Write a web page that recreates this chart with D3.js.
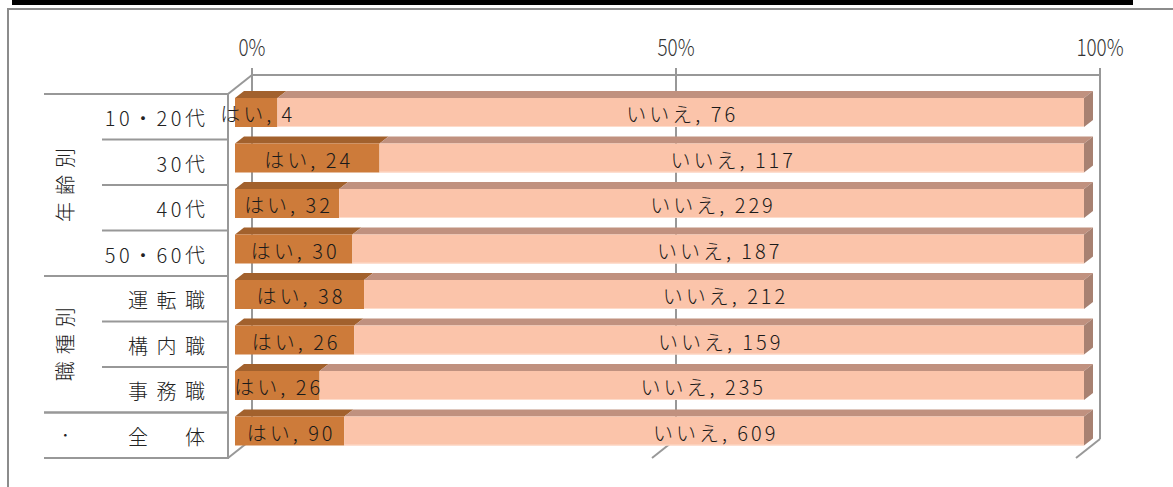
<!DOCTYPE html>
<html><head><meta charset="utf-8">
<script src="https://cdn.jsdelivr.net/npm/d3@7"></script>
<style>
html,body{margin:0;padding:0;background:#fff;}
svg{display:block;font-family:"Noto Sans CJK JP","Noto Sans",sans-serif;}
</style></head>
<body>
<svg id="chart" width="1173" height="487"></svg>
<script>
const categories = ["10・20代","30代","40代","50・60代","運転職","構内職","事務職","全　体"];
const yesValues = [4,24,32,30,38,26,26,90];
const noValues = [76,117,229,187,212,159,235,609];
const yesLabel = "はい";
const noLabel = "いいえ";
const groupNames = ["年齢別","職種別","・"];
const groupStart = [0,4,7];
const groupEnd = [4,7,8];
const tickValues = [0,0.5,1];
const tickLabels = ["0%","50%","100%"];

const svg = d3.select("#chart");

// frame
svg.append("rect").attr("x",12).attr("y",0).attr("width",1121).attr("height",5).attr("fill","#000");
svg.append("path").attr("d","M8,487 V9 H1173").attr("fill","none").attr("stroke","#8c8c8c").attr("stroke-width",2);

// scales
const y = d3.scaleBand().domain(categories).range([94,458]).padding(0);
const wallFront = d3.scaleLinear().domain([0,1]).range([228,1076]);
const depthX = 24, depthY = -19;
const wallBack = v => wallFront(v) + depthX;
const barX = d3.scaleLinear().domain([0,1]).range([235,1084]);
const barDX = 9, barDY = -7;
const barTopOff = 4, barH = 29;

const grid = "#989898";
const gTop = y.range()[0], gBot = y.range()[1];

tickValues.forEach(t=>{
  svg.append("line").attr("x1",wallBack(t)).attr("x2",wallBack(t))
    .attr("y1",gTop+depthY-7).attr("y2",gBot+depthY).attr("stroke",grid).attr("stroke-width",2);
  svg.append("line").attr("x1",wallFront(t)).attr("y1",gBot)
    .attr("x2",wallBack(t)).attr("y2",gBot+depthY).attr("stroke",grid).attr("stroke-width",2);
});
svg.append("line").attr("x1",wallBack(0)).attr("x2",wallBack(1)+1)
  .attr("y1",gTop+depthY).attr("y2",gTop+depthY).attr("stroke",grid).attr("stroke-width",2);
svg.append("line").attr("x1",wallFront(0)).attr("y1",gTop).attr("x2",wallBack(0)).attr("y2",gTop+depthY)
  .attr("stroke",grid).attr("stroke-width",2);
svg.append("line").attr("x1",wallFront(0)).attr("x2",wallFront(0)).attr("y1",gTop).attr("y2",gBot+1)
  .attr("stroke",grid).attr("stroke-width",2);

tickValues.forEach((t,i)=>{
  svg.append("text").attr("transform",`translate(${wallBack(t)},56) scale(0.82,1)`)
    .attr("text-anchor","middle").attr("font-size",23).attr("font-weight",300)
    .attr("fill","#333").text(tickLabels[i]);
});

groupNames.forEach((g,i)=>{
  const y0 = y(categories[groupStart[i]]);
  const y1 = y(categories[groupEnd[i]-1]) + y.bandwidth();
  svg.append("line").attr("x1",44).attr("x2",wallFront(0)).attr("y1",y0).attr("y2",y0).attr("stroke",grid).attr("stroke-width",2);
  svg.append("line").attr("x1",44).attr("x2",wallFront(0)).attr("y1",y1).attr("y2",y1).attr("stroke",grid).attr("stroke-width",2);
  for(let k=groupStart[i]+1;k<groupEnd[i];k++){
    const yy = y(categories[k]);
    svg.append("line").attr("x1",102).attr("x2",wallFront(0)).attr("y1",yy).attr("y2",yy).attr("stroke",grid).attr("stroke-width",2);
  }
  const cy = (y0+y1)/2;
  const isCJK = g.length>1;
  svg.append("text").attr("transform",`translate(64,${cy}) rotate(-90)`)
    .attr("text-anchor","middle").attr("dominant-baseline","central")
    .attr("font-size",isCJK?20:14).attr("font-weight",300).attr("fill","#222")
    .style("letter-spacing",isCJK?"7px":"0px").attr("dx",isCJK?3.5:0).text(g);
});

categories.forEach(c=>{
  const kanjiOnly = !/[0-9]/.test(c);
  const ls = kanjiOnly ? 8.5 : 3.5;
  svg.append("text").attr("x",205+ls).attr("y",y(c)+y.bandwidth()/2+1)
    .attr("text-anchor","end").attr("dominant-baseline","central")
    .attr("font-size",20).attr("font-weight",300).attr("fill","#222")
    .style("letter-spacing",ls+"px").text(c);
});

const colors = {
  yesFront:"#CD7B3A", yesTop:"#A2612D",
  noFront:"#FBC4AA", noTop:"#C0917F", noSide:"#A88171"
};
function para(x0,x1,yTop){
  return `M${x0},${yTop} L${x0+barDX},${yTop+barDY} L${x1+barDX},${yTop+barDY} L${x1},${yTop} Z`;
}
categories.forEach((c,i)=>{
  const total = yesValues[i]+noValues[i];
  const p = yesValues[i]/total;
  const yt = y(c)+barTopOff;
  const xa = barX(0), xm = barX(p), xb = barX(1);
  const g = svg.append("g");
  g.append("path").attr("d",para(xa,xm,yt)).attr("fill",colors.yesTop);
  g.append("path").attr("d",para(xm,xb,yt)).attr("fill",colors.noTop);
  g.append("path").attr("d",`M${xb},${yt} L${xb+barDX},${yt+barDY} L${xb+barDX},${yt+barDY+barH} L${xb},${yt+barH} Z`).attr("fill",colors.noSide);
  g.append("rect").attr("x",xa).attr("y",yt).attr("width",xm-xa).attr("height",barH).attr("fill",colors.yesFront);
  g.append("rect").attr("x",xm).attr("y",yt).attr("width",xb-xm).attr("height",barH).attr("fill",colors.noFront);
  g.append("line").attr("x1",xm).attr("x2",xb).attr("y1",yt+barH-0.5).attr("y2",yt+barH-0.5).attr("stroke","#FDDCCB").attr("stroke-width",1);
  g.append("text").attr("x",(xa+xm)/2+1.5).attr("y",yt+barH/2+1)
    .attr("text-anchor","middle").attr("dominant-baseline","central")
    .attr("font-size",20).attr("font-weight",300).attr("fill","#1a1a1a")
    .style("letter-spacing","3px").text(`${yesLabel}, ${yesValues[i]}`);
  g.append("text").attr("x",(xm+xb)/2+1.5).attr("y",yt+barH/2+1)
    .attr("text-anchor","middle").attr("dominant-baseline","central")
    .attr("font-size",20).attr("font-weight",300).attr("fill","#1a1a1a")
    .style("letter-spacing","3px").text(`${noLabel}, ${noValues[i]}`);
});
</script>
</body></html>
